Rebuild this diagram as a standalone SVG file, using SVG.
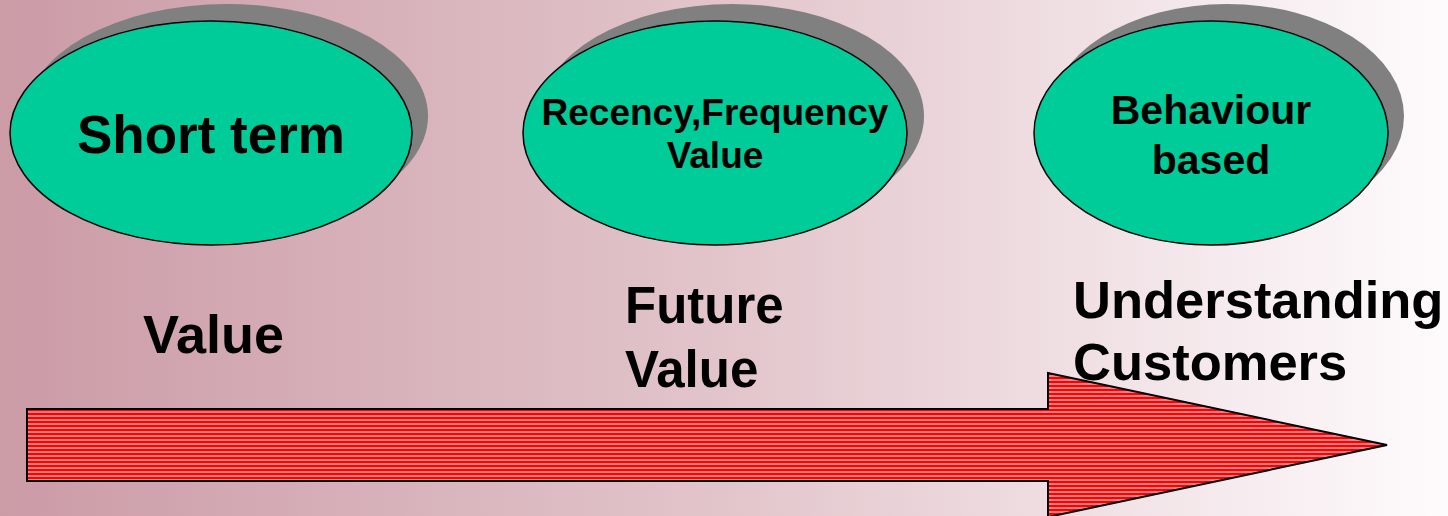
<svg xmlns="http://www.w3.org/2000/svg" width="1448" height="516" viewBox="0 0 1448 516">
  <defs>
    <linearGradient id="bg" x1="0" y1="0" x2="1" y2="0">
      <stop offset="0" stop-color="#cb9ba6"/>
      <stop offset="0.5" stop-color="#e2c5cb"/>
      <stop offset="1" stop-color="#fefbfd"/>
    </linearGradient>
    <pattern id="stripes" patternUnits="userSpaceOnUse" x="0" y="409" width="8" height="4">
      <rect width="8" height="4" fill="#ff0000"/>
      <rect y="2.5" width="8" height="1" fill="#ffffff"/>
    </pattern>
    <style>
      .shadow { fill: #808080; }
      .bubble { fill: #00cc99; stroke: #000; stroke-width: 1.5; }
      .lbl { font-family: "Liberation Sans", Arial, sans-serif; font-weight: bold; fill: #000; text-anchor: middle; }
      .cap { font-family: "Liberation Sans", Arial, sans-serif; font-weight: bold; fill: #000; }
    </style>
  </defs>

  <rect width="1448" height="516" fill="url(#bg)"/>

  <!-- progression arrow -->
  <g id="connectors">
    <path d="M27 409 H1048 V373 L1387 445 L1048 517 V481 H27 Z" fill="url(#stripes)" stroke="#000" stroke-width="2" stroke-linejoin="miter"/>
  </g>

  <g id="node-short-term">
    <ellipse class="shadow" cx="227" cy="116" rx="201" ry="112"/>
    <ellipse class="bubble" cx="211" cy="133" rx="201" ry="112"/>
    <text class="lbl" x="211" y="153" font-size="53">Short term</text>
  </g>

  <g id="node-rfv">
    <ellipse class="shadow" cx="732" cy="116" rx="192" ry="112"/>
    <ellipse class="bubble" cx="715" cy="133" rx="192" ry="112"/>
    <text class="lbl" x="715" y="125" font-size="37">Recency,Frequency</text>
    <text class="lbl" x="715" y="168" font-size="37">Value</text>
  </g>

  <g id="node-behaviour">
    <ellipse class="shadow" cx="1227" cy="116" rx="177" ry="112"/>
    <ellipse class="bubble" cx="1211" cy="133" rx="177" ry="112"/>
    <text class="lbl" x="1211" y="124" font-size="41">Behaviour</text>
    <text class="lbl" x="1211" y="174" font-size="41">based</text>
  </g>

  <g id="caption-value">
    <text class="cap" x="143" y="353" font-size="54">Value</text>
  </g>

  <g id="caption-future-value">
    <text class="cap" x="625" y="323" font-size="51">Future</text>
    <text class="cap" x="625" y="387" font-size="51">Value</text>
  </g>

  <g id="caption-understanding">
    <text class="cap" x="1073" y="318" font-size="52.5">Understanding</text>
    <text class="cap" x="1073" y="380" font-size="52.5">Customers</text>
  </g>
</svg>
